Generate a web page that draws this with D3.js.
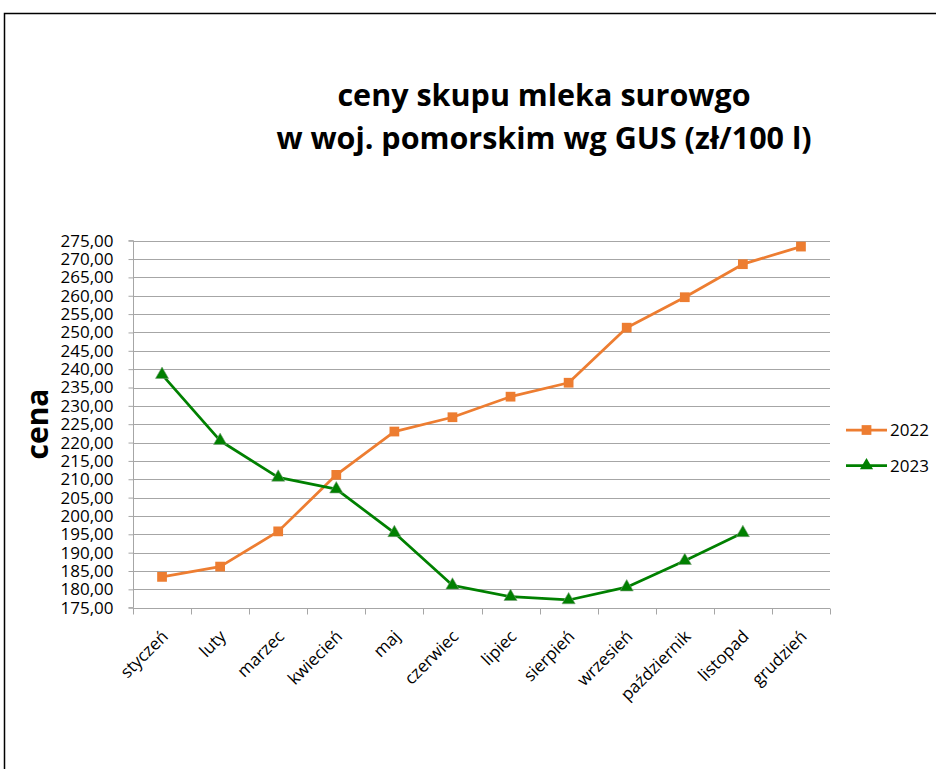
<!DOCTYPE html>
<html><head><meta charset="utf-8">
<script src="https://cdn.jsdelivr.net/npm/d3@7"></script>
<style>body{margin:0;background:#fff}svg{display:block}</style>
</head><body>
<svg id="c" width="936" height="769"></svg>
<script>
const months = ["styczeń","luty","marzec","kwiecień","maj","czerwiec","lipiec","sierpień","wrzesień","październik","listopad","grudzień"];
const v2022 = [183.4,186.2,195.8,211.2,223.0,226.9,232.5,236.3,251.3,259.6,268.6,273.4];
const v2023 = [238.5,220.5,210.5,207.3,195.4,181.1,178.0,177.1,180.6,187.8,195.4];
const yTicks = d3.range(175, 276, 5);
const titleLines = ["ceny skupu mleka surowgo","w woj. pomorskim wg GUS (zł/100 l)"];
const series = [
  {name:"2022", values:v2022, color:"#ED7D31", marker:"square"},
  {name:"2023", values:v2023, color:"#008000", marker:"triangle"}
];

const svg = d3.select("#c");
const font = "Open Sans, Noto Sans, sans-serif";
svg.append("rect").attr("x",4.5).attr("y",13.5).attr("width",940).attr("height",770)
  .attr("fill","none").attr("stroke","#000").attr("stroke-width",1.5);

const L=133, R=830, T=240.7, B=607.7;
const x = d3.scaleBand().domain(months).range([L,R]);
const y = d3.scaleLinear().domain([175,275]).range([B,T]);

// gridlines
svg.append("g").selectAll("line").data(yTicks).join("line")
  .attr("x1",L).attr("x2",R).attr("y1",d=>Math.round(y(d))+0.5).attr("y2",d=>Math.round(y(d))+0.5)
  .attr("stroke","#a6a6a6").attr("stroke-width",1);

// y axis
const ya = svg.append("g").attr("transform",`translate(${L+0.5},0)`)
  .call(d3.axisLeft(y).tickValues(yTicks).tickSize(5).tickFormat(d=>d3.format(".2f")(d).replace(".",",")));
ya.select(".domain").attr("stroke","#a6a6a6").attr("d",`M-5,${B}H0V${T}H-5`);
ya.selectAll(".tick line").attr("stroke","#a6a6a6");
ya.selectAll(".tick text").attr("x",-20).attr("font-family",font).attr("font-size",17).attr("fill","#000");

// x axis
const xa = svg.append("g").attr("transform",`translate(0,${Math.round(B)+0.5})`);
xa.append("line").attr("x1",L).attr("x2",R).attr("stroke","#a6a6a6");
xa.selectAll("line.t").data(d3.range(months.length+1)).join("line").attr("class","t")
  .attr("x1",i=>Math.round(L+i*x.bandwidth())+0.5).attr("x2",i=>Math.round(L+i*x.bandwidth())+0.5)
  .attr("y1",0).attr("y2",6).attr("stroke","#a6a6a6");
xa.selectAll("text").data(months).join("text")
  .attr("transform",d=>`translate(${x(d)+x.bandwidth()/2+7},${29}) rotate(-45)`)
  .attr("text-anchor","end").attr("font-family",font).attr("font-size",17).attr("fill","#000")
  .text(d=>d);

// lines
const line = d3.line().x((d,i)=>x(months[i])+x.bandwidth()/2).y(d=>y(d));
const sym = {square:d3.symbolSquare, triangle:d3.symbolTriangle};
series.forEach(s=>{
  svg.append("path").datum(s.values).attr("d",line).attr("fill","none")
    .attr("stroke",s.color).attr("stroke-width",2.75).attr("stroke-linejoin","round");
  svg.append("g").selectAll("path").data(s.values).join("path")
    .attr("transform",(d,i)=>`translate(${x(months[i])+x.bandwidth()/2},${y(d)})`)
    .attr("d",d3.symbol().type(sym[s.marker]).size(s.marker==="square"?95:75))
    .attr("fill",s.color).attr("stroke",s.marker==="triangle"?"#7aa07a":"none").attr("stroke-width",0.6);
});

// legend
series.forEach((s,i)=>{
  const ly = 430 + i*35.5;
  const g = svg.append("g");
  g.append("line").attr("x1",846).attr("x2",887).attr("y1",ly).attr("y2",ly).attr("stroke",s.color).attr("stroke-width",2.75);
  g.append("path").attr("transform",`translate(866.5,${ly})`)
    .attr("d",d3.symbol().type(sym[s.marker]).size(s.marker==="square"?95:75)).attr("fill",s.color);
  g.append("text").attr("x",890).attr("y",ly+6).attr("font-family",font).attr("font-size",17).attr("fill","#000").text(s.name);
});

// title
svg.append("g").selectAll("text").data(titleLines).join("text")
  .attr("x",544).attr("y",(d,i)=>106+i*43).attr("text-anchor","middle")
  .attr("font-family",font).attr("font-weight","bold").attr("font-size",30.5).attr("fill","#000").text(d=>d);

// y title
svg.append("text").attr("transform","translate(48,424) rotate(-90)").attr("text-anchor","middle")
  .attr("font-family",font).attr("font-weight","bold").attr("font-size",30).attr("fill","#000").text("cena");
</script>
</body></html>
